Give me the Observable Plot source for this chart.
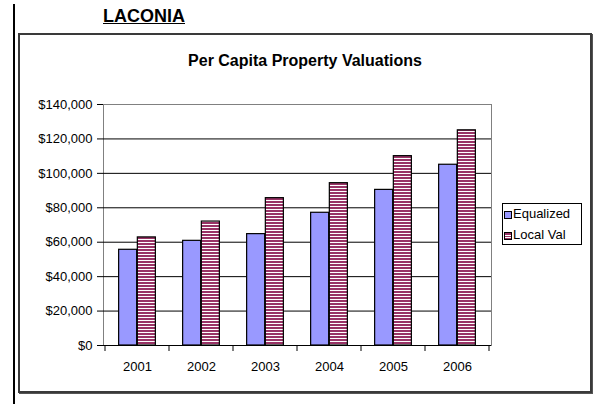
<!DOCTYPE html>
<html><head><meta charset="utf-8">
<script src="https://cdn.jsdelivr.net/npm/d3@7"></script>
<script src="https://cdn.jsdelivr.net/npm/@observablehq/plot@0.6"></script>
<style>
body{margin:0;background:#fff;font-family:"Liberation Sans",Arial,sans-serif;}
#wrap{position:relative;width:597px;height:404px;overflow:hidden;background:#fff;}
#pageline{position:absolute;left:13px;top:4px;width:2px;height:400px;background:#000;}
#laconia{position:absolute;left:103px;top:6px;font-weight:bold;font-size:18px;line-height:20px;text-decoration:underline;color:#000;}
#frame{position:absolute;left:18px;top:33px;width:570px;height:356px;border:2px solid #3a3a3a;box-shadow:1px 1px 0 #555;}
#title{position:absolute;left:18px;width:574px;top:51px;text-align:center;font-weight:bold;font-size:16px;line-height:20px;color:#000;}
#chart{position:absolute;left:0;top:0;}
#legend{position:absolute;left:502px;top:203px;width:78px;height:40px;border:1px solid #000;background:#fff;}
.row{position:absolute;left:0;font-size:13px;line-height:15px;color:#000;}
.sw{position:absolute;left:1px;width:6px;height:6px;border:1px solid #000;}
.lab{position:absolute;left:10px;white-space:nowrap;}
</style>
</head><body>
<div id="wrap">
  <div id="pageline"></div>
  <div id="laconia">LACONIA</div>
  <div id="frame"></div>
  <div id="title">Per Capita Property Valuations</div>
  <div id="chart"></div>
  <div id="legend"></div>
</div>
<script>
const years = ["2001", "2002", "2003", "2004", "2005", "2006"];
const seriesNames = ["Equalized", "Local Val"];
const equalized = [55600, 60800, 64700, 77100, 90400, 105000];
const localVal = [62800, 72000, 85600, 94300, 110000, 125000];
const yTicks = [0, 20000, 40000, 60000, 80000, 100000, 120000, 140000];

const rows = years.flatMap((yr, i) => [
  {year: yr, series: seriesNames[0], value: equalized[i]},
  {year: yr, series: seriesNames[1], value: localVal[i]}
]);

const W = 597, H = 404, mL = 103, mR = 106, mT = 104, mB = 59;
const bw = (W - mL - mR) / years.length;
const barW = 18.7;
const outer = bw / 2 - barW;
const fmt = d => "$" + d3.format(",")(d);

const chart = Plot.plot({
  width: W, height: H,
  marginLeft: mL, marginRight: mR, marginTop: mT, marginBottom: mB,
  style: {fontFamily: "'Liberation Sans', Arial, sans-serif", fontSize: "13px", color: "#000", background: "transparent"},
  x: {domain: years, padding: 0, tickSize: 0, tickPadding: 16, label: null},
  y: {domain: [0, 140000], ticks: 7, tickFormat: fmt, tickSize: 6, tickPadding: 5, label: null, line: true},
  marks: [
    Plot.frame({stroke: "#808080"}),
    Plot.ruleY(yTicks.slice(1, -1), {stroke: "#000", strokeWidth: 1}),
    Plot.barY(rows.filter(d => d.series === seriesNames[0]), {x: "year", y: "value", fill: "#9999FF", stroke: "#000", strokeWidth: 1.2, insetLeft: outer, insetRight: bw / 2}),
    Plot.barY(rows.filter(d => d.series === seriesNames[1]), {x: "year", y: "value", fill: "url(#stripes)", stroke: "#000", strokeWidth: 1.2, insetLeft: bw / 2, insetRight: outer}),
    Plot.ruleY([0], {stroke: "#000"})
  ]
});

const svg = d3.select(chart);
const defs = svg.insert("defs", ":first-child");
const pat = defs.append("pattern").attr("id", "stripes").attr("patternUnits", "userSpaceOnUse").attr("width", 4).attr("height", 3);
pat.append("rect").attr("width", 4).attr("height", 3).attr("fill", "#fff");
pat.append("rect").attr("width", 4).attr("height", 2).attr("fill", "#993366");

// boundary ticks on the category axis
const xs = chart.scale("x"), ys = chart.scale("y");
const y0 = ys.apply(0);
const bounds = years.map(y => xs.apply(y)).concat([xs.apply(years[years.length - 1]) + xs.bandwidth]);
const g = svg.append("g").attr("stroke", "#000");
bounds.forEach(b => g.append("line").attr("x1", b).attr("x2", b).attr("y1", y0).attr("y2", y0 + 6));

document.getElementById("chart").appendChild(chart);

// legend
const leg = document.getElementById("legend");
const legendStyles = [
  {name: seriesNames[0], bg: "#9999FF"},
  {name: seriesNames[1], bg: "repeating-linear-gradient(to bottom,#993366 0px,#993366 1.5px,#fff 1.5px,#fff 2.5px)"}
];
legendStyles.forEach((s, i) => {
  const r = document.createElement("div");
  r.className = "row";
  r.style.top = (2 + i * 21) + "px";
  r.style.width = "78px"; r.style.height = "15px";
  const sw = document.createElement("div");
  sw.className = "sw"; sw.style.top = "5px"; sw.style.background = s.bg;
  const lab = document.createElement("div");
  lab.className = "lab"; lab.textContent = s.name;
  r.appendChild(sw); r.appendChild(lab);
  leg.appendChild(r);
});
</script>
</body></html>
